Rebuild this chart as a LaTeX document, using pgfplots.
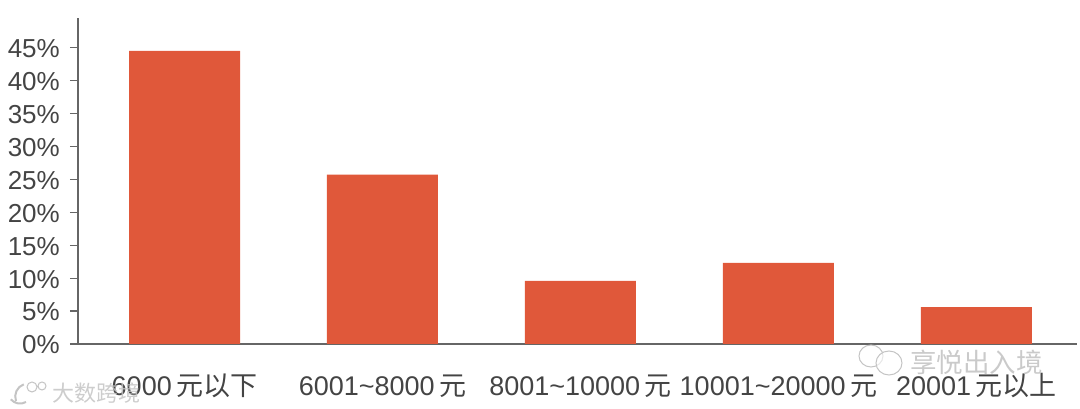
\documentclass[border=0pt]{standalone}
\usepackage{fontspec}
\usepackage{pgfplots}
\pgfplotsset{compat=1.18}
\setmainfont{Liberation Sans}
\newfontfamily\cjk{Noto Sans CJK SC}
\definecolor{barc}{HTML}{E0583A}
\definecolor{axisc}{HTML}{666666}
\definecolor{textc}{HTML}{444444}
\definecolor{markc}{HTML}{C4C4C4}
\begin{document}
\begin{tikzpicture}[x=1pt,y=1pt]
\useasboundingbox (0,0) rectangle (1080,409);
\begin{axis}[
  at={(78pt,65pt)},
  anchor=south west,
  scale only axis,
  width=999pt,
  height=326pt,
  xmin=-0.538, xmax=4.508,
  ymin=0, ymax=49.5,
  axis x line=bottom,
  axis y line=left,
  axis line style={axisc, line width=1.4pt, -},
  ytick={0,5,...,45},
  yticklabels={0\%,5\%,10\%,15\%,20\%,25\%,30\%,35\%,40\%,45\%},
  xtick={0,1,2,3,4},
  xticklabels={6000\,{\cjk 元以下},6001\textasciitilde8000\,{\cjk 元},8001\textasciitilde10000\,{\cjk 元},10001\textasciitilde20000\,{\cjk 元},20001\,{\cjk 元以上}},
  tick align=outside,
  major tick length=8pt,
  ytick style={axisc, line width=1.2pt},
  xtick style={draw=none},
  yticklabel style={font=\fontsize{26}{26}\selectfont, text=textc, inner sep=0pt, xshift=-10pt, yshift=-1pt},
  xticklabel style={font=\fontsize{27}{27}\selectfont, text=textc, inner sep=0pt, text height=23pt, text depth=5pt, yshift=-20pt},
  ybar,
  bar width=111pt,
  bar shift=0pt,
  clip=false,
]
\addplot[fill=barc, draw=none] coordinates {
  (0,44.5) (1,25.7) (2,9.6) (3,12.3) (4,5.6)
};
\end{axis}
% watermarks
\node[anchor=west, text=markc, opacity=0.85, font=\fontsize{22}{22}\selectfont\cjk, inner sep=0pt] at (52,16) {大数跨境};
\node[anchor=west, text=markc, opacity=0.9, font=\fontsize{26.5}{26.5}\selectfont\cjk, inner sep=0pt] at (910,47) {享悦出入境};
\draw[markc, line width=1pt, fill=white, fill opacity=0.6] (871,53) ellipse (12 and 11);
\draw[markc, line width=1pt, fill=white, fill opacity=0.6] (889,46) ellipse (13 and 12);
\draw[markc, line width=2pt] (16,8) arc (200:110:13) (26,7) arc (-60:-140:12);
\draw[markc, line width=1pt] (32,22) circle (5) (42,23) circle (4);
\end{tikzpicture}
\end{document}
